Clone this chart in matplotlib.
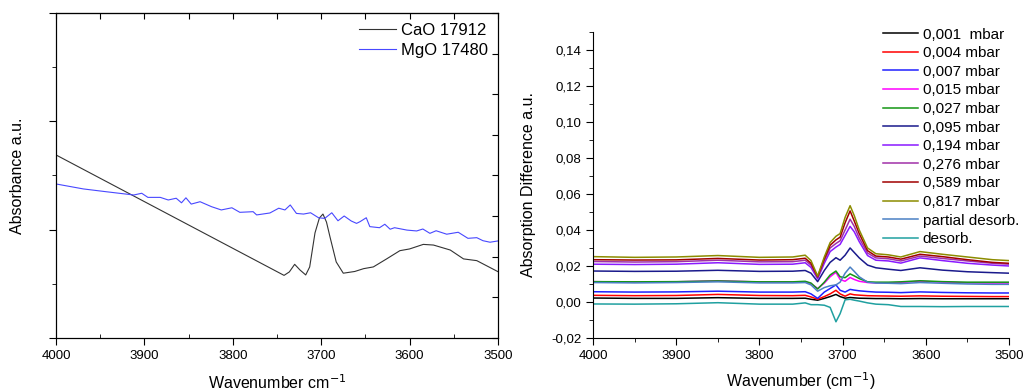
import numpy as np
import matplotlib
matplotlib.use('Agg')
from matplotlib import pyplot as plt
from matplotlib.ticker import MultipleLocator, FuncFormatter

plt.rcParams['font.family'] = ['Liberation Sans', 'DejaVu Sans']

# left panel: raw spectra (a.u.)
cao_x = [4000, 3742, 3736, 3730, 3724, 3717.5, 3713, 3707, 3702, 3698, 3694, 3690, 3683,
         3675, 3662, 3652, 3641, 3626, 3611, 3600, 3584.5, 3573, 3554, 3539, 3524, 3500]
cao_y = [0.845, 0.289, 0.305, 0.340, 0.314, 0.291, 0.328, 0.485, 0.554, 0.572, 0.535, 0.466, 0.351,
         0.299, 0.307, 0.320, 0.328, 0.365, 0.403, 0.411, 0.432, 0.429, 0.406, 0.365, 0.357, 0.306]

mgo_x = [4000, 3969, 3943, 3912, 3903, 3896, 3882, 3873, 3864, 3858, 3853, 3847, 3837, 3824,
         3813, 3801, 3792, 3777, 3773, 3758, 3748, 3741, 3735, 3728, 3720, 3712, 3703, 3696,
         3688, 3681, 3674, 3666, 3660, 3656, 3649, 3645, 3634, 3628, 3622, 3617, 3603, 3592,
         3585, 3577, 3570, 3558, 3545, 3534, 3524, 3517, 3509, 3500]
mgo_y = [0.711, 0.688, 0.675, 0.660, 0.668, 0.649, 0.649, 0.637, 0.645, 0.624, 0.647, 0.618, 0.629, 0.606,
         0.591, 0.601, 0.580, 0.583, 0.568, 0.577, 0.599, 0.591, 0.614, 0.575, 0.572, 0.578, 0.555, 0.552,
         0.578, 0.541, 0.563, 0.540, 0.529, 0.537, 0.555, 0.514, 0.509, 0.525, 0.502, 0.509, 0.498, 0.494,
         0.503, 0.483, 0.495, 0.479, 0.488, 0.460, 0.463, 0.449, 0.442, 0.448]

# right panel: difference spectra
wn = [4000, 3950, 3900, 3850, 3800, 3760, 3745, 3738, 3730, 3722, 3715, 3708, 3703, 3697, 3691,
      3686, 3680, 3670, 3660, 3645, 3630, 3607, 3580, 3550, 3520, 3500]

labels = ['0,001  mbar', '0,004 mbar', '0,007 mbar', '0,015 mbar', '0,027 mbar', '0,095 mbar',
          '0,194 mbar', '0,276 mbar', '0,589 mbar', '0,817 mbar', 'partial desorb.', 'desorb.']
colors = ['#000000', '#ff0000', '#2020ff', '#ff00ff', '#149614', '#1a1a8c',
          '#8a1aff', '#a030a8', '#a00000', '#8c8c00', '#4a80c4', '#20a0a0']

p001 = [0.0022, 0.0020, 0.0020, 0.0024, 0.0020, 0.0020, 0.0021, 0.0015, 0.0010, 0.0020, 0.0030, 0.0042,
        0.0030, 0.0021, 0.0025, 0.0023, 0.0021, 0.0020, 0.0019, 0.0019, 0.0018, 0.0019, 0.0018, 0.0018, 0.0018, 0.0018]
p004 = [0.0037, 0.0035, 0.0036, 0.0042, 0.0036, 0.0035, 0.0037, 0.0028, 0.0015, 0.0030, 0.0045, 0.0065,
        0.0045, 0.0032, 0.0045, 0.0040, 0.0038, 0.0035, 0.0034, 0.0033, 0.0032, 0.0034, 0.0032, 0.0031, 0.0030, 0.0030]
p007 = [0.0057, 0.0055, 0.0056, 0.0060, 0.0055, 0.0055, 0.0057, 0.0045, 0.0020, 0.0055, 0.0075, 0.0095,
        0.0065, 0.0055, 0.0070, 0.0066, 0.0062, 0.0058, 0.0055, 0.0054, 0.0052, 0.0056, 0.0053, 0.0051, 0.0050, 0.0050]
p015 = [0.0113, 0.0110, 0.0112, 0.0118, 0.0111, 0.0110, 0.0112, 0.0102, 0.0075, 0.0105, 0.0140, 0.0165,
        0.0125, 0.0115, 0.0136, 0.0125, 0.0115, 0.0108, 0.0106, 0.0106, 0.0108, 0.0115, 0.0110, 0.0106, 0.0105, 0.0105]
p027 = [0.0113, 0.0112, 0.0113, 0.0117, 0.0112, 0.0112, 0.0115, 0.0105, 0.0072, 0.0110, 0.0150, 0.0172,
        0.0140, 0.0135, 0.0156, 0.0145, 0.0130, 0.0112, 0.0110, 0.0110, 0.0112, 0.0118, 0.0113, 0.0110, 0.0110, 0.0110]
p095 = [0.0172, 0.0170, 0.0171, 0.0176, 0.0170, 0.0171, 0.0175, 0.0160, 0.0113, 0.0175, 0.0220, 0.0246,
        0.0232, 0.0260, 0.0300, 0.0275, 0.0245, 0.0205, 0.0190, 0.0182, 0.0175, 0.0190, 0.0177, 0.0168, 0.0163, 0.0160]
p194 = [0.0210, 0.0208, 0.0210, 0.0218, 0.0209, 0.0210, 0.0218, 0.0192, 0.0128, 0.0215, 0.0280, 0.0305,
        0.0320, 0.0370, 0.0420, 0.0390, 0.0335, 0.0258, 0.0232, 0.0228, 0.0216, 0.0245, 0.0230, 0.0215, 0.0205, 0.0200]
p276 = [0.0225, 0.0222, 0.0224, 0.0232, 0.0223, 0.0224, 0.0232, 0.0205, 0.0135, 0.0230, 0.0300, 0.0325,
        0.0340, 0.0400, 0.0460, 0.0420, 0.0355, 0.0272, 0.0245, 0.0240, 0.0228, 0.0255, 0.0242, 0.0228, 0.0215, 0.0210]
p589 = [0.0235, 0.0233, 0.0234, 0.0242, 0.0233, 0.0235, 0.0243, 0.0215, 0.0140, 0.0240, 0.0315, 0.0345,
        0.0360, 0.0440, 0.0506, 0.0450, 0.0380, 0.0285, 0.0255, 0.0250, 0.0238, 0.0265, 0.0252, 0.0235, 0.0220, 0.0215]
p817 = [0.0252, 0.0248, 0.0250, 0.0258, 0.0248, 0.0250, 0.0260, 0.0230, 0.0144, 0.0250, 0.0330, 0.0365,
        0.0380, 0.0470, 0.0535, 0.0480, 0.0400, 0.0300, 0.0268, 0.0262, 0.0250, 0.0280, 0.0265, 0.0250, 0.0235, 0.0230]
part = [0.0108, 0.0106, 0.0108, 0.0112, 0.0106, 0.0106, 0.0108, 0.0095, 0.0060, 0.0080, 0.0090, 0.0095,
        0.0110, 0.0160, 0.0194, 0.0170, 0.0140, 0.0110, 0.0105, 0.0104, 0.0102, 0.0108, 0.0104, 0.0100, 0.0098, 0.0098]
deso = [-0.0011, -0.0012, -0.0010, -0.0004, -0.0012, -0.0012, -0.0005, -0.0015, -0.0015, -0.0018, -0.0030, -0.0110,
        -0.0065, 0.0012, 0.0015, 0.0010, 0.0005, -0.0005, -0.0012, -0.0015, -0.0025, -0.0025, -0.0026, -0.0025, -0.0025, -0.0025]

series = [p001, p004, p007, p015, p027, p095, p194, p276, p589, p817, part, deso]

fig = plt.figure(figsize=(10.23, 3.92), dpi=100)

# ---- left
ax1 = fig.add_axes([0.0547, 0.1378, 0.4321, 0.829])
ax1.plot(cao_x, cao_y, color='#333333', lw=0.8, label='CaO 17912')
ax1.plot(mgo_x, mgo_y, color='#4848ff', lw=0.8, label='MgO 17480')
ax1.set_xlim(4000, 3500)
ax1.set_ylim(0, 1.5)
ax1.xaxis.set_major_locator(MultipleLocator(100))
ax1.xaxis.set_minor_locator(MultipleLocator(50))
ax1.yaxis.set_major_locator(MultipleLocator(0.5))
ax1.yaxis.set_minor_locator(MultipleLocator(0.25))
ax1.set_yticklabels([])
ax1.tick_params(axis='both', which='major', direction='out', length=5, labelsize=9.5)
ax1.tick_params(axis='both', which='minor', direction='out', length=3)
ax1.tick_params(axis='x', which='minor', direction='in')
ax1.set_xlabel('Wavenumber cm$^{-1}$', fontsize=11.5, labelpad=8)
ax1.set_ylabel('Absorbance a.u.', fontsize=11.5)
ax1.yaxis.set_label_coords(-0.070, 0.5)
# right-side ticks without labels (separate scale)
axr = ax1.twinx()
axr.set_ylim(0, 8)
axr.yaxis.set_major_locator(MultipleLocator(1))
axr.set_yticklabels([])
axr.tick_params(direction='in', length=4)
axt = ax1.secondary_xaxis('top')
axt.xaxis.set_major_locator(MultipleLocator(50))
axt.set_xticklabels([])
axt.tick_params(direction='in', length=4)
ax1.legend(loc='upper right', frameon=False, fontsize=12, handlelength=2.2,
           handletextpad=0.3, labelspacing=0.3, borderaxespad=0.2)

# ---- right
ax2 = fig.add_axes([0.5797, 0.1378, 0.4066, 0.7806])
for vals, col, lab in zip(series, colors, labels):
    ax2.plot(wn, vals, color=col, lw=1.1, label=lab)
ax2.set_xlim(4000, 3500)
ax2.set_ylim(-0.02, 0.15)
ax2.xaxis.set_major_locator(MultipleLocator(100))
ax2.xaxis.set_minor_locator(MultipleLocator(50))
ax2.yaxis.set_major_locator(MultipleLocator(0.02))
ax2.yaxis.set_minor_locator(MultipleLocator(0.01))
ax2.yaxis.set_major_formatter(FuncFormatter(lambda v, p: ('%.2f' % v).replace('.', ',')))
ax2.spines['top'].set_visible(False)
ax2.spines['right'].set_visible(False)
ax2.tick_params(axis='both', which='major', direction='out', length=5, labelsize=9.5)
ax2.tick_params(axis='both', which='minor', direction='out', length=3)
ax2.set_xlabel('Wavenumber (cm$^{-1}$)', fontsize=11.5, labelpad=6)
ax2.set_ylabel('Absorption Difference a.u.', fontsize=11.5)
ax2.yaxis.set_label_coords(-0.137, 0.5)
ax2.legend(loc='upper left', bbox_to_anchor=(0.857, 0.945), bbox_transform=fig.transFigure,
           frameon=False, fontsize=11, handlelength=2.3, handletextpad=0.3,
           labelspacing=0.3, borderaxespad=0)

fig.savefig('out.png', dpi=100)
